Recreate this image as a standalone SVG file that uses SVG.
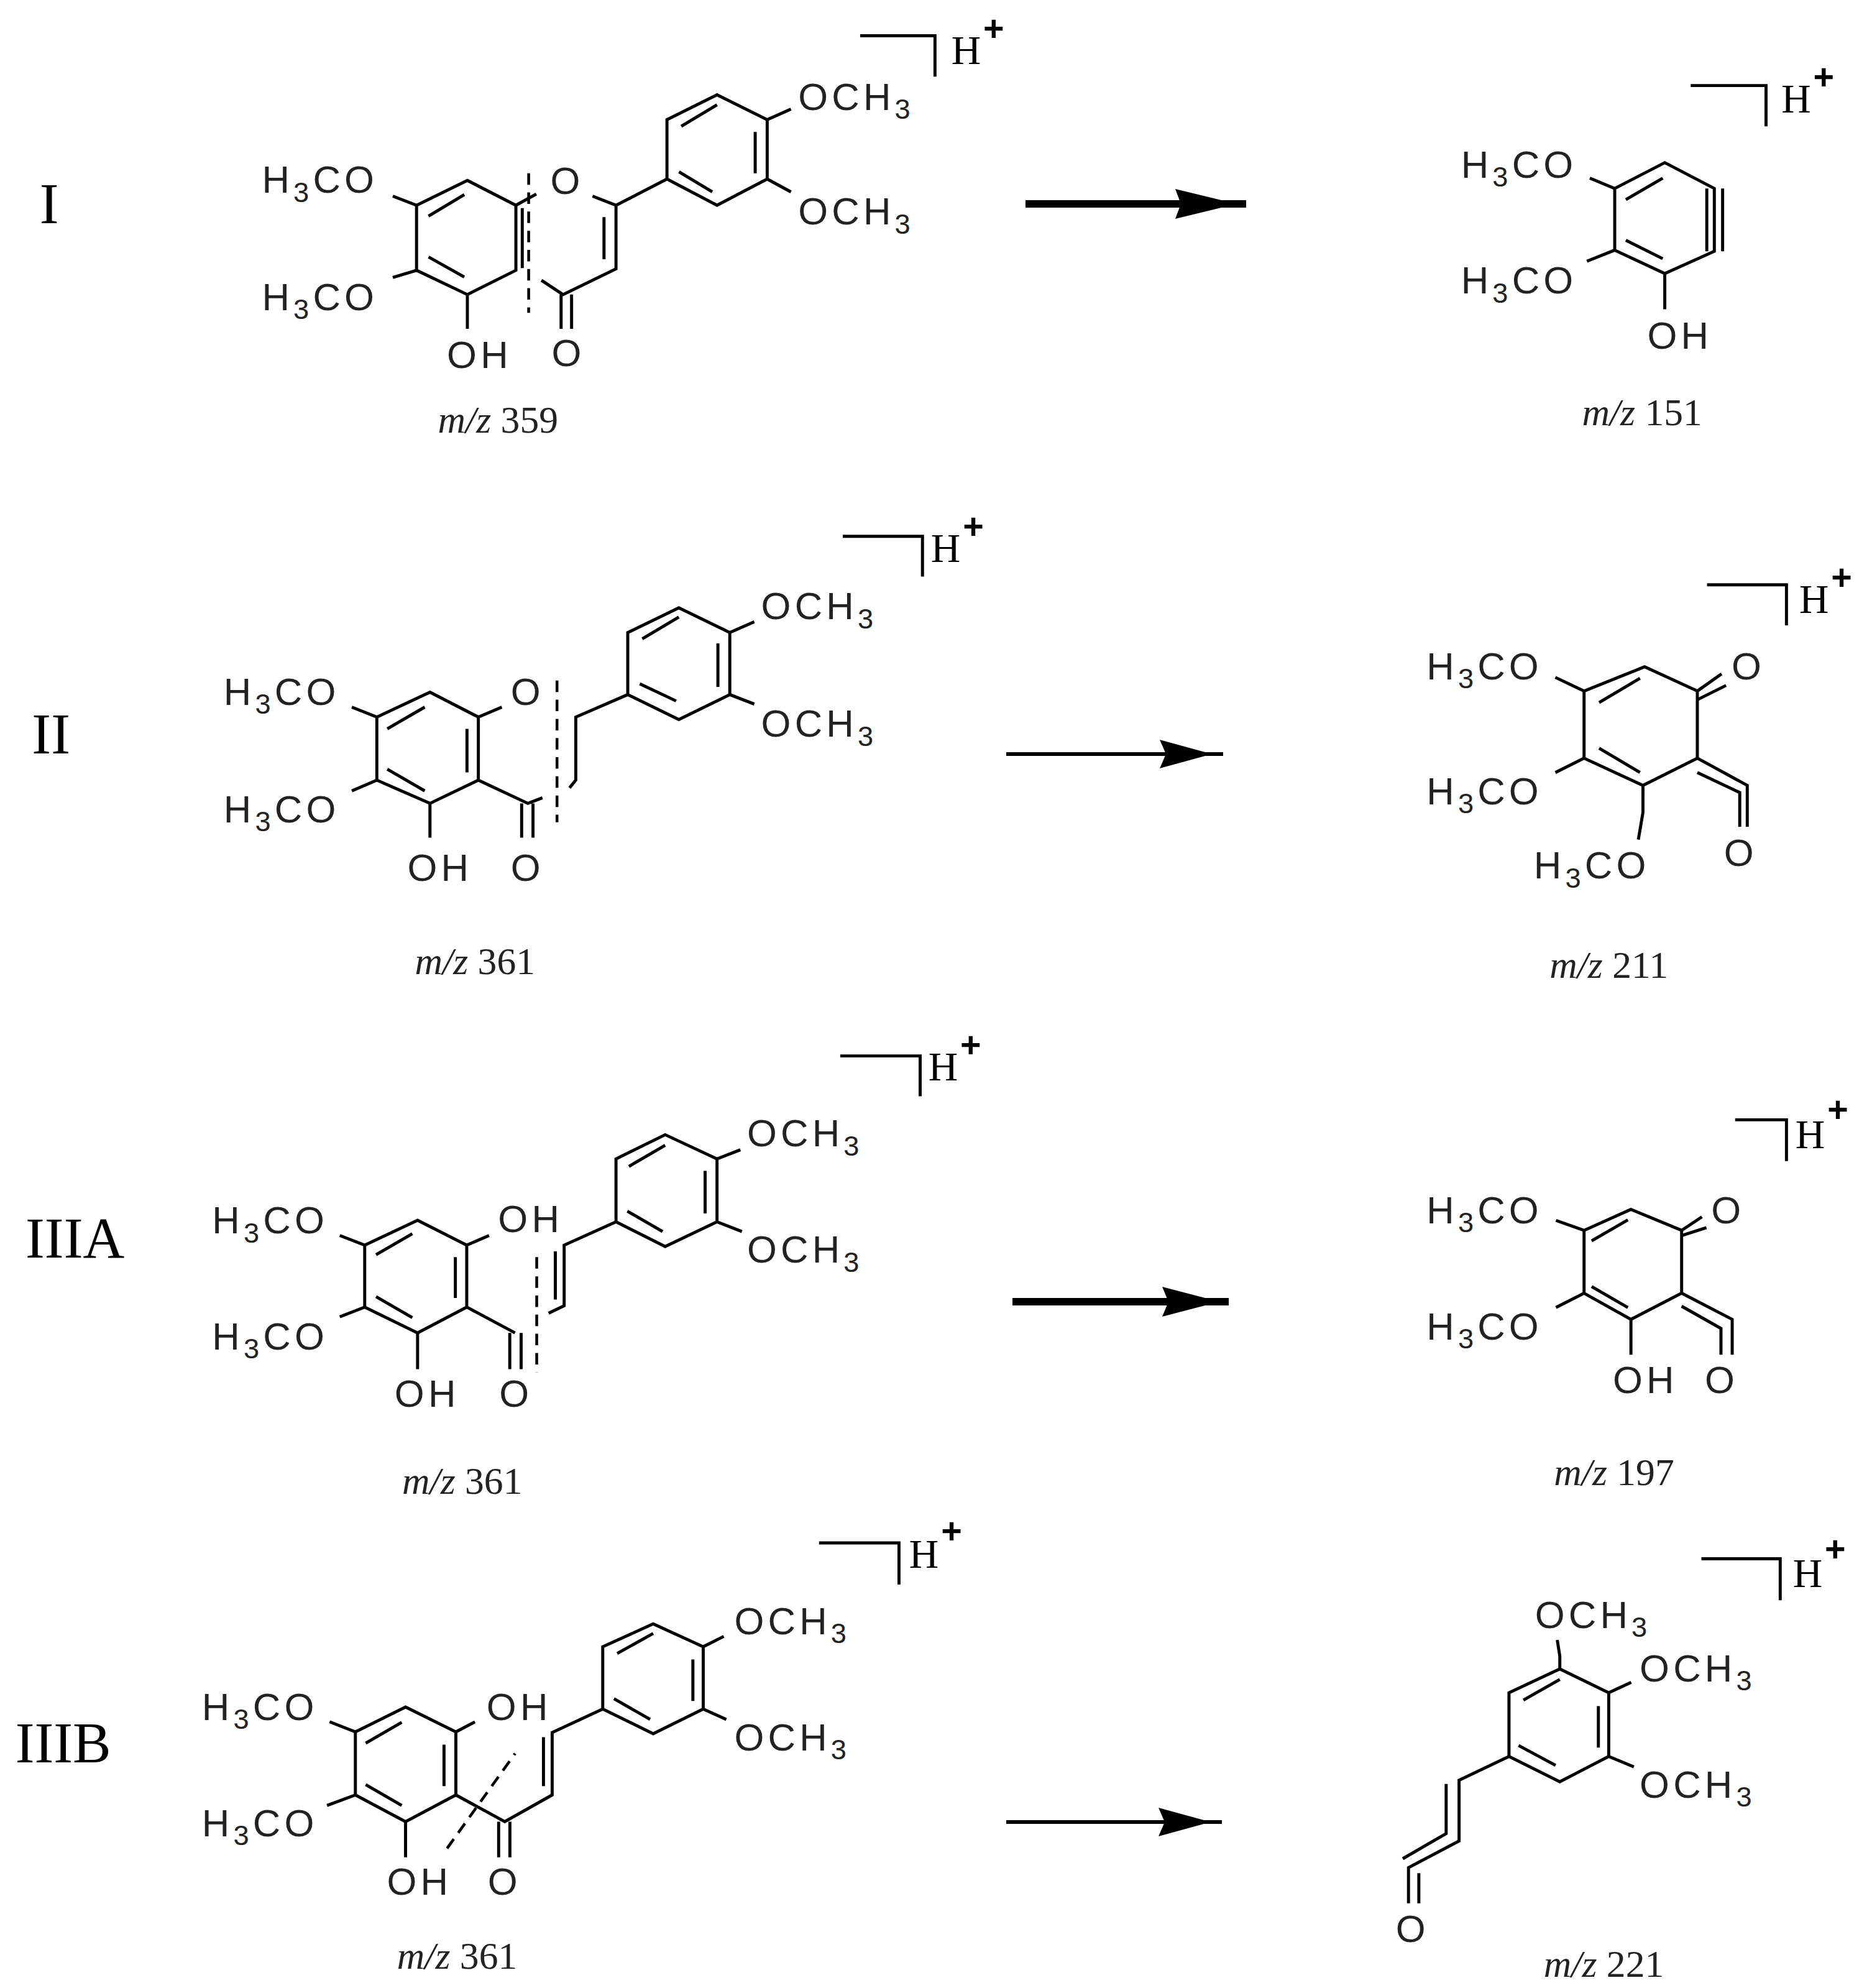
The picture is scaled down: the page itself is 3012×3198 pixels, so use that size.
<svg xmlns="http://www.w3.org/2000/svg" width="3012" height="3198" viewBox="0 0 3012 3198">
<style>
.b{stroke:#000;stroke-width:2.4;fill:none;stroke-linecap:butt;stroke-linejoin:miter}
.d{stroke:#000;stroke-width:2.2;fill:none;stroke-dasharray:9,6}
.t{font-family:"Liberation Sans",Arial,sans-serif;font-size:30px;letter-spacing:3px;fill:#222}
.s{font-size:22px}
.mz{font-family:"Liberation Serif","Times New Roman",serif;font-size:30px;fill:#222;text-anchor:middle}
.h{font-family:"Liberation Serif","Times New Roman",serif;font-size:32px;fill:#000}
.p{font-family:"Liberation Sans",Arial,sans-serif;font-size:28px;font-weight:bold;fill:#000}
.r{font-family:"Liberation Serif","Times New Roman",serif;font-size:45px;fill:#000}
</style>
<rect width="3012" height="3198" fill="#fff"/>
<g transform="scale(2.0546,2.054)">
<g id="labels">
<text class="r" x="31" y="175">I</text>
<text class="r" x="25" y="590">II</text>
<text class="r" x="20" y="985">IIIA</text>
<text class="r" x="12" y="1380">IIIB</text>
</g>

<g id="mol-I-left">
<polygon class="b" points="366,141.3 404,160.8 404,211.7 366,230.7 326.2,211.7 326.2,160.8"/>
<path class="b" d="M335.6,169.2L363.6,152.5M335.6,201.3L363.6,217M409,163V210M404,160.8L420,152M464,153.6L482.4,160.8V210.6L440.9,230.7L424,219.5M473,170V203M439.4,230.7V257.5M447.6,230.7V257.5M482.4,160.8L522.3,140.2"/>
<path class="d" d="M414,135.7V245"/>
<polygon class="b" points="522.3,140.2 522.3,93.7 561.5,74.3 600.8,93.7 600.8,140.2 561.5,160.8"/>
<path class="b" d="M533.5,98.9L561.5,82.1M591.4,103.3V135.7M531.7,134.6L557.8,150.3M600.8,93.7L619.4,85.4M600.8,140.2L619.4,150.3M326.2,160.8L307.6,153.6M326.2,211.7L307.6,217.3M366,230.7V257.6"/>
<text class="t" x="431" y="152">O</text>
<text class="t" x="432" y="287">O</text>
<text class="t" x="625" y="86">OCH<tspan class="s" dy="7">3</tspan></text>
<text class="t" x="625" y="176">OCH<tspan class="s" dy="7">3</tspan></text>
<text class="t" x="296" y="151" text-anchor="end">H<tspan class="s" dy="7">3</tspan><tspan dy="-7">CO</tspan></text>
<text class="t" x="296" y="243" text-anchor="end">H<tspan class="s" dy="7">3</tspan><tspan dy="-7">CO</tspan></text>
<text class="t" x="350" y="288">OH</text>
<text class="mz" x="390" y="339"><tspan font-style="italic">m/z</tspan> 359</text>
<path class="b" d="M673.6,28H732.2V60"/>
<text class="h" x="745" y="50">H</text>
<text class="p" x="770" y="32">+</text>
</g>

<g id="mol-I-right">
<polygon class="b" points="1303.7,127.4 1342.5,147.6 1342.5,196.8 1303.7,214.2 1264.5,195.9 1264.5,147.6"/>
<path class="b" d="M1336.6,147.6V196.8M1349,147.6V196.8M1273.2,156.3L1302.1,139.5M1273.2,188.2L1302.1,202.6M1264.5,147.6L1245,139.5M1264.5,195.9L1242.7,204.6M1303.7,214.2V242.2"/>
<text class="t" x="1235" y="139" text-anchor="end">H<tspan class="s" dy="7">3</tspan><tspan dy="-7">CO</tspan></text>
<text class="t" x="1235" y="230" text-anchor="end">H<tspan class="s" dy="7">3</tspan><tspan dy="-7">CO</tspan></text>
<text class="t" x="1290" y="273">OH</text>
<text class="mz" x="1286" y="333"><tspan font-style="italic">m/z</tspan> 151</text>
<path class="b" d="M1324,67H1383V99"/>
<text class="h" x="1395" y="88">H</text>
<text class="p" x="1420" y="70">+</text>
</g>

<g id="mol-II-left">
<polygon class="b" points="336.7,542.1 374.6,561.6 374.6,611 336.7,629.2 295.1,611 295.1,561.6"/>
<path class="b" d="M303.3,570.8L332.6,553.8M303.3,602.4L332.6,619.4M365.7,570.8V604.9M374.6,561.6L393,553.8M374.6,611L413.4,629.2L424.8,624.8M408.5,629.2V656M417.4,629.2V656M446,617L450.9,611V561.6L491.6,544"/>
<path class="d" d="M436.2,533V644"/>
<polygon class="b" points="491.6,544 491.6,495.4 531.6,476 571.5,495.4 571.5,544 531.6,563.5"/>
<path class="b" d="M503,500.3L531.6,483.3M562.2,503.9V538M501,535.5L529.5,549M571.5,495.4L590.7,487M571.5,544L590.7,551.4M295.1,561.6L275.5,553.8M295.1,611L275.5,619.4M336.7,629.2V656"/>
<text class="t" x="400" y="552">O</text>
<text class="t" x="400" y="690">O</text>
<text class="t" x="596" y="485">OCH<tspan class="s" dy="7">3</tspan></text>
<text class="t" x="596" y="577">OCH<tspan class="s" dy="7">3</tspan></text>
<text class="t" x="266" y="552" text-anchor="end">H<tspan class="s" dy="7">3</tspan><tspan dy="-7">CO</tspan></text>
<text class="t" x="266" y="644" text-anchor="end">H<tspan class="s" dy="7">3</tspan><tspan dy="-7">CO</tspan></text>
<text class="t" x="319" y="690">OH</text>
<text class="mz" x="372" y="763"><tspan font-style="italic">m/z</tspan> 361</text>
<path class="b" d="M660,420H722.4V451.6"/>
<text class="h" x="729" y="440">H</text>
<text class="p" x="754" y="422">+</text>
</g>

<g id="mol-II-right">
<polygon class="b" points="1287.8,522.2 1329.2,541.2 1329.2,593.8 1286.6,615.1 1240.5,593.8 1240.5,541.2"/>
<path class="b" d="M1252.3,550.2L1284.3,531.2M1252.3,586L1284.3,605M1329.2,541.2L1348.2,527.8M1329.2,548L1351.7,536.8M1329.2,593.8L1368.3,615.1V647.5M1329.2,605L1362.4,620.7V647.5M1286.6,615.1V636.3L1283,657.6M1240.5,541.2L1218,530.5M1240.5,593.8L1218,605"/>
<text class="t" x="1356" y="532">O</text>
<text class="t" x="1350" y="678">O</text>
<text class="t" x="1208" y="532" text-anchor="end">H<tspan class="s" dy="7">3</tspan><tspan dy="-7">CO</tspan></text>
<text class="t" x="1208" y="630" text-anchor="end">H<tspan class="s" dy="7">3</tspan><tspan dy="-7">CO</tspan></text>
<text class="t" x="1292" y="688" text-anchor="end">H<tspan class="s" dy="7">3</tspan><tspan dy="-7">CO</tspan></text>
<text class="mz" x="1260" y="766"><tspan font-style="italic">m/z</tspan> 211</text>
<path class="b" d="M1336.8,458H1399V489.8"/>
<text class="h" x="1409" y="480">H</text>
<text class="p" x="1434" y="462">+</text>
</g>

<g id="mol-IIIA-left">
<polygon class="b" points="327,955.7 365.5,975.2 365.5,1023.7 327,1043.9 285.6,1023.7 285.6,975.2"/>
<path class="b" d="M294.5,982.7L322.9,966.2M294.5,1015.5L322.9,1032M356.6,984.6V1016.6M365.5,975.2L383,967.6M365.5,1023.7L403.3,1043.9M399.2,1043.9V1072.3M408.1,1043.9V1072.3M429.6,1028.5L441.8,1022.6V975.2L482.4,956.9M434.9,980V1017.8M327,1043.9V1072.3"/>
<path class="d" d="M420.3,984.6V1074.7"/>
<polygon class="b" points="482.4,956.9 482.4,907.6 520.9,888.7 561.5,907.6 561.5,956.9 520.9,976.3"/>
<path class="b" d="M492.5,913.5L520.9,897M552.2,917V950.3M491.3,948.6L518.9,964.5M561.5,907.6L579.8,900.5M561.5,956.9L581,964.5M285.6,975.2L266.1,967.6M285.6,1023.7L266.1,1031.3"/>
<text class="t" x="390" y="965">OH</text>
<text class="t" x="391" y="1102">O</text>
<text class="t" x="585" y="898">OCH<tspan class="s" dy="7">3</tspan></text>
<text class="t" x="585" y="989">OCH<tspan class="s" dy="7">3</tspan></text>
<text class="t" x="257" y="966" text-anchor="end">H<tspan class="s" dy="7">3</tspan><tspan dy="-7">CO</tspan></text>
<text class="t" x="257" y="1057" text-anchor="end">H<tspan class="s" dy="7">3</tspan><tspan dy="-7">CO</tspan></text>
<text class="t" x="309" y="1102">OH</text>
<text class="mz" x="362" y="1170"><tspan font-style="italic">m/z</tspan> 361</text>
<path class="b" d="M658,827H720.6V858.6"/>
<text class="h" x="727" y="846">H</text>
<text class="p" x="752" y="828">+</text>
</g>

<g id="mol-IIIA-right">
<polygon class="b" points="1277.2,947.2 1316.9,963.6 1316.9,1012.8 1277.2,1033.3 1240.5,1012.8 1240.5,963.6"/>
<path class="b" d="M1246.4,971.8L1274.8,955.4M1246.4,1007.6L1274.8,1024M1316.9,963.6L1332.8,953M1316.9,967.7L1336.3,961.5M1316.9,1012.8L1356.5,1033.3V1061M1316.9,1023L1347.7,1040.4V1061M1277.2,1033.3V1061M1240.5,963.6L1218.5,955.8M1240.5,1012.8L1218.5,1024"/>
<text class="t" x="1340" y="958">O</text>
<text class="t" x="1335" y="1091">O</text>
<text class="t" x="1208" y="958" text-anchor="end">H<tspan class="s" dy="7">3</tspan><tspan dy="-7">CO</tspan></text>
<text class="t" x="1208" y="1049" text-anchor="end">H<tspan class="s" dy="7">3</tspan><tspan dy="-7">CO</tspan></text>
<text class="t" x="1263" y="1091">OH</text>
<text class="mz" x="1264" y="1163"><tspan font-style="italic">m/z</tspan> 197</text>
<path class="b" d="M1358.8,877H1399V909.3"/>
<text class="h" x="1406" y="899">H</text>
<text class="p" x="1431" y="879">+</text>
</g>

<g id="mol-IIIB-left">
<polygon class="b" points="317.6,1336.9 357,1356.4 357,1405.8 317.6,1426.7 278.3,1405.8 278.3,1356.4"/>
<path class="b" d="M286.4,1365.2L314.6,1348.9M286.4,1397.7L314.6,1414M347.7,1366.3V1398.9M357,1356.4L371.9,1348.5M357,1405.8L395.3,1426.7L432.4,1405.8V1356.9L472,1338.5M425.6,1360.5V1398.9M390.5,1426.7V1454.6M399.3,1426.7V1454.6M317.6,1426.7V1454.6"/>
<path class="d" d="M350.1,1447.6L403.4,1373.3"/>
<polygon class="b" points="472,1338.5 472,1289.7 511.5,1271.8 550.7,1289.7 550.7,1338.5 511.5,1357.8"/>
<path class="b" d="M483.3,1295L511.5,1279.3M542.6,1299.7V1332.2M480.8,1330.4L509.1,1346.6M550.7,1289.7L566.8,1281.6M550.7,1338.5L568.8,1346.6M278.3,1356.4L258.1,1348.5M278.3,1405.8L256.1,1414"/>
<text class="t" x="381" y="1347">OH</text>
<text class="t" x="382" y="1484">O</text>
<text class="t" x="575" y="1280">OCH<tspan class="s" dy="7">3</tspan></text>
<text class="t" x="575" y="1371">OCH<tspan class="s" dy="7">3</tspan></text>
<text class="t" x="249" y="1347" text-anchor="end">H<tspan class="s" dy="7">3</tspan><tspan dy="-7">CO</tspan></text>
<text class="t" x="249" y="1438" text-anchor="end">H<tspan class="s" dy="7">3</tspan><tspan dy="-7">CO</tspan></text>
<text class="t" x="303" y="1484">OH</text>
<text class="mz" x="358" y="1542"><tspan font-style="italic">m/z</tspan> 361</text>
<path class="b" d="M641.4,1208.4H704V1241"/>
<text class="h" x="712" y="1228">H</text>
<text class="p" x="737" y="1209">+</text>
</g>

<g id="mol-IIIB-right">
<polygon class="b" points="1221.5,1307.1 1259.8,1325.7 1259.8,1375.6 1221.5,1395.4 1181.7,1375.6 1181.7,1325.7"/>
<path class="b" d="M1193,1331.5L1221.5,1315.3M1189.2,1367L1218.2,1382.6M1251.7,1336.2V1368.7M1221.5,1307.1V1297L1219.5,1284.4M1259.8,1325.7L1277.4,1317.6M1259.8,1375.6L1279.5,1383.8M1181.7,1375.6L1142.6,1394.2V1441.8L1103,1462.7V1490.6M1132.5,1397.2V1436L1098.5,1455.7M1111.1,1467V1490.6"/>
<text class="t" x="1202" y="1275">OCH<tspan class="s" dy="7">3</tspan></text>
<text class="t" x="1284" y="1317">OCH<tspan class="s" dy="7">3</tspan></text>
<text class="t" x="1284" y="1408">OCH<tspan class="s" dy="7">3</tspan></text>
<text class="t" x="1093" y="1521">O</text>
<text class="mz" x="1256" y="1548"><tspan font-style="italic">m/z</tspan> 221</text>
<path class="b" d="M1332.4,1220.8H1394.1V1253.3"/>
<text class="h" x="1404" y="1243">H</text>
<text class="p" x="1429" y="1223">+</text>
</g>
</g>

<g id="connectors" fill="#000">
<line x1="1650" y1="328" x2="2005" y2="328" stroke="#000" stroke-width="12"/>
<polygon points="1891,304 1990,328 1891,352 1900,328"/>
<line x1="1619" y1="1213" x2="1968" y2="1213" stroke="#000" stroke-width="6"/>
<polygon points="1866,1190 1950,1213 1866,1236 1876,1213"/>
<line x1="1629" y1="2094" x2="1977" y2="2094" stroke="#000" stroke-width="12"/>
<polygon points="1870,2070 1962,2094 1870,2118 1880,2094"/>
<line x1="1619" y1="2931" x2="1966" y2="2931" stroke="#000" stroke-width="6"/>
<polygon points="1864,2908 1948,2931 1864,2954 1874,2931"/>
</g>
</svg>
